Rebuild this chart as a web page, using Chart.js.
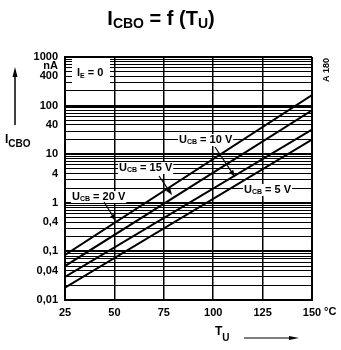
<!DOCTYPE html>
<html>
<head>
<meta charset="utf-8">
<script src="https://cdn.jsdelivr.net/npm/chart.js@4.4.0/dist/chart.umd.min.js"></script>
<style>
html, body { margin: 0; padding: 0; background: #fff; }
</style>
</head>
<body>
<canvas id="chart" width="341" height="350"></canvas>
<script>
// temperature (°C) at the two ends of each straight line
const temps = [25, 150];
// I_CBO in nA for each collector-base voltage
const ucb20 = [0.085, 165];
const ucb15 = [0.05, 80];
const ucb10 = [0.03, 32];
const ucb5 = [0.018, 20];

const xTicks = [25, 50, 75, 100, 125, 150];
const yLabelValues = [0.01, 0.04, 0.1, 0.4, 1, 4, 10, 40, 100, 400, 1000];
const yLabelTexts = ['0,01', '0,04', '0,1', '0,4', '1', '4', '10', '40', '100', '400', '1000'];

// log grid: 1..9 in every decade
const decades = [0.01, 0.1, 1, 10, 100];
const yGrid = [];
decades.forEach(d => { for (let m = 1; m <= 9; m++) yGrid.push(+(d * m).toPrecision(3)); });
yGrid.push(1000);

const FONT = 'Liberation Sans';

function toPoints(ys) {
    return temps.map((t, i) => ({ x: t, y: ys[i] }));
}

function isDecade(v) {
    const l = Math.log10(v);
    return Math.abs(l - Math.round(l)) < 1e-6;
}

// draws text made of parts (normal + subscript), returns the width
function richText(ctx, x, y, parts) {
    let cx = x;
    parts.forEach(p => {
        ctx.font = p.font;
        ctx.fillText(p.t, cx, y + (p.dy || 0));
        cx += ctx.measureText(p.t).width;
    });
    return cx - x;
}

function measureRich(ctx, parts) {
    let w = 0;
    parts.forEach(p => { ctx.font = p.font; w += ctx.measureText(p.t).width; });
    return w;
}

function ucbLabel(ctx, x, y, volts) {
    const parts = [
        { t: 'U', font: 'bold 11px ' + FONT },
        { t: 'CB', font: 'bold 7px ' + FONT, dy: 2 },
        { t: ' = ' + volts + ' V', font: 'bold 11px ' + FONT }
    ];
    const w = measureRich(ctx, parts);
    ctx.fillStyle = '#fff';
    ctx.fillRect(x - 1, y - 6, w + 2, 12);
    ctx.fillStyle = '#000';
    richText(ctx, x, y, parts);
}

function arrow(ctx, x1, y1, x2, y2, head, halfW) {
    const a = Math.atan2(y2 - y1, x2 - x1);
    ctx.beginPath();
    ctx.moveTo(x1, y1);
    ctx.lineTo(x2 - Math.cos(a) * head * 0.5, y2 - Math.sin(a) * head * 0.5);
    ctx.stroke();
    ctx.beginPath();
    ctx.moveTo(x2, y2);
    ctx.lineTo(x2 - Math.cos(a) * head - Math.sin(a) * halfW, y2 - Math.sin(a) * head + Math.cos(a) * halfW);
    ctx.lineTo(x2 - Math.cos(a) * head + Math.sin(a) * halfW, y2 - Math.sin(a) * head - Math.cos(a) * halfW);
    ctx.closePath();
    ctx.fill();
}

const labelsPlugin = {
    id: 'labels',
    beforeDatasetsDraw(chart) {
        const ctx = chart.ctx;
        ctx.save();
        ctx.textBaseline = 'middle';
        ctx.textAlign = 'left';

        // I_E = 0 box in the top left corner
        ctx.fillStyle = '#fff';
        ctx.fillRect(72, 59, 38, 30);
        ctx.fillStyle = '#000';
        richText(ctx, 77, 73, [
            { t: 'I', font: 'bold 11px ' + FONT },
            { t: 'E', font: 'bold 7px ' + FONT, dy: 3 },
            { t: ' = 0', font: 'bold 11px ' + FONT }
        ]);

        ucbLabel(ctx, 72, 197, '20');
        ucbLabel(ctx, 119, 168, '15');
        ucbLabel(ctx, 179, 140, '10');
        ucbLabel(ctx, 244, 190, '5');
        ctx.restore();
    },
    afterDraw(chart) {
        const ctx = chart.ctx;
        ctx.save();
        ctx.fillStyle = '#000';
        ctx.strokeStyle = '#000';
        ctx.lineWidth = 1.2;

        // pointers from the labels to the lines
        arrow(ctx, 104, 202, 116, 221, 7, 2.5);
        arrow(ctx, 159, 176, 172, 195, 7, 2.5);
        arrow(ctx, 215, 147, 235, 177, 7, 2.5);

        ctx.textBaseline = 'alphabetic';
        ctx.textAlign = 'left';

        // title
        const titleParts = [
            { t: 'I', font: 'bold 20px ' + FONT },
            { t: 'CBO', font: 'bold 14px ' + FONT, dy: 3 },
            { t: ' = f (T', font: 'bold 20px ' + FONT },
            { t: 'U', font: 'bold 14px ' + FONT, dy: 3 },
            { t: ')', font: 'bold 20px ' + FONT }
        ];
        const tw = measureRich(ctx, titleParts);
        richText(ctx, 161 - tw / 2, 25, titleParts);

        // y axis title and arrow
        richText(ctx, 5, 143, [
            { t: 'I', font: 'bold 12px ' + FONT },
            { t: 'CBO', font: 'bold 10px ' + FONT, dy: 4 }
        ]);
        ctx.lineWidth = 1.5;
        arrow(ctx, 15, 125, 15, 67, 10, 2.5);

        // x axis title and arrow
        richText(ctx, 215, 335, [
            { t: 'T', font: 'bold 12px ' + FONT },
            { t: 'U', font: 'bold 10px ' + FONT, dy: 6 }
        ]);
        ctx.lineWidth = 1.2;
        arrow(ctx, 244, 338, 299, 338, 10, 2);

        // units
        ctx.textBaseline = 'middle';
        ctx.font = 'bold 11px ' + FONT;
        ctx.textAlign = 'right';
        ctx.fillText('nA', 58, 66);
        ctx.textAlign = 'left';
        ctx.fillText('°C', 324, 312);

        // drawing number, rotated
        ctx.translate(327, 70);
        ctx.rotate(-Math.PI / 2);
        ctx.textAlign = 'center';
        ctx.font = 'bold 9px ' + FONT;
        ctx.fillText('A 180', 0, 0);
        ctx.restore();
    }
};

const lineStyle = {
    borderColor: '#000',
    borderWidth: 2,
    pointRadius: 0,
    fill: false,
    tension: 0
};

new Chart(document.getElementById('chart'), {
    type: 'line',
    data: {
        datasets: [
            { label: 'UCB = 20 V', data: toPoints(ucb20), ...lineStyle },
            { label: 'UCB = 15 V', data: toPoints(ucb15), ...lineStyle },
            { label: 'UCB = 10 V', data: toPoints(ucb10), ...lineStyle },
            { label: 'UCB = 5 V', data: toPoints(ucb5), ...lineStyle }
        ]
    },
    options: {
        responsive: false,
        animation: false,
        devicePixelRatio: 1,
        layout: { padding: { left: 0, top: 57, right: 29, bottom: 0 } },
        plugins: {
            legend: { display: false },
            tooltip: { enabled: false },
            title: { display: false }
        },
        scales: {
            x: {
                type: 'linear',
                min: 25,
                max: 150,
                afterBuildTicks: axis => { axis.ticks = xTicks.map(v => ({ value: v })); },
                afterFit: scale => { scale.height = 50; },
                ticks: {
                    autoSkip: false,
                    maxRotation: 0,
                    padding: 6,
                    color: '#000',
                    font: { family: FONT, size: 11, weight: 'bold' },
                    callback: v => String(v)
                },
                grid: {
                    color: '#000',
                    drawTicks: false,
                    lineWidth: c => (c.tick && (c.tick.value === 25 || c.tick.value === 150)) ? 2 : 1.5
                },
                border: { display: true, color: '#000', width: 2 }
            },
            y: {
                type: 'logarithmic',
                min: 0.01,
                max: 1000,
                afterBuildTicks: axis => { axis.ticks = yGrid.map(v => ({ value: v })); },
                afterFit: scale => { scale.width = 65; },
                ticks: {
                    autoSkip: false,
                    padding: 7,
                    color: '#000',
                    font: { family: FONT, size: 11, weight: 'bold' },
                    callback: v => {
                        const i = yLabelValues.findIndex(l => Math.abs(l - v) / l < 1e-6);
                        return i >= 0 ? yLabelTexts[i] : '';
                    }
                },
                grid: {
                    color: '#000',
                    drawTicks: false,
                    lineWidth: c => (c.tick && isDecade(c.tick.value)) ? 2 : 1
                },
                border: { display: true, color: '#000', width: 2 }
            }
        }
    },
    plugins: [labelsPlugin]
});
</script>
</body>
</html>
